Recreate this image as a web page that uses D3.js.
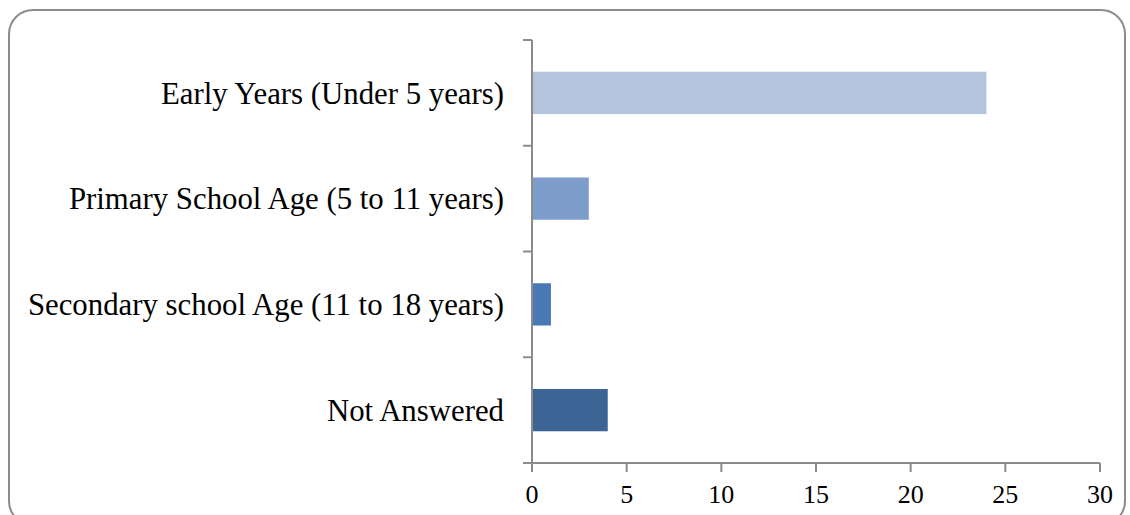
<!DOCTYPE html>
<html><head><meta charset="utf-8">
<script src="https://cdn.jsdelivr.net/npm/d3@7"></script>
<style>body{margin:0;background:#fff}svg{display:block}</style>
</head><body>
<script>
const categories = ["Early Years (Under 5 years)","Primary School Age (5 to 11 years)","Secondary school Age (11 to 18 years)","Not Answered"];
const values = [24, 3, 1, 4];
const barColors = ["#b4c3de","#7f9dcb","#4a7ab5","#3c6596"];
const xTicks = [0,5,10,15,20,25,30];

(function(){
const W=1130,H=515;
const svg=d3.select("body").append("svg").attr("width",W).attr("height",H);
svg.append("rect").attr("x",9).attr("y",10).attr("width",1116).attr("height",515)
  .attr("rx",24).attr("fill","#fff").attr("stroke","#8c8c8c").attr("stroke-width",2);

const mLeft=532,mRight=1100,mTop=40,mBottom=463;
const x=d3.scaleLinear().domain([0,30]).range([mLeft,mRight]);
const y=d3.scaleBand().domain(categories).range([mTop,mBottom]).paddingInner(0.6).paddingOuter(0.3);

svg.selectAll("rect.bar").data(values).join("rect").attr("class","bar")
  .attr("x",x(0)).attr("y",(d,i)=>y(categories[i]))
  .attr("width",d=>x(d)-x(0)).attr("height",y.bandwidth())
  .attr("fill",(d,i)=>barColors[i]);

const axisColor="#8c8c8c";
svg.append("line").attr("x1",mLeft).attr("x2",mLeft).attr("y1",mTop).attr("y2",mBottom).attr("stroke",axisColor).attr("stroke-width",2);
const step=(mBottom-mTop)/categories.length;
d3.range(categories.length+1).forEach(i=>{
  const yy=mTop+i*step;
  svg.append("line").attr("x1",mLeft-9).attr("x2",mLeft).attr("y1",yy).attr("y2",yy).attr("stroke",axisColor).attr("stroke-width",2);
});
svg.append("line").attr("x1",mLeft-9).attr("x2",mRight).attr("y1",mBottom).attr("y2",mBottom).attr("stroke",axisColor).attr("stroke-width",2);
xTicks.forEach(t=>{
  svg.append("line").attr("x1",x(t)).attr("x2",x(t)).attr("y1",mBottom).attr("y2",mBottom+9).attr("stroke",axisColor).attr("stroke-width",2);
  svg.append("text").attr("x",x(t)).attr("y",503).attr("text-anchor","middle")
    .attr("font-family","Liberation Serif, serif").attr("font-size",26).attr("fill","#000").text(t);
});
categories.forEach(c=>{
  svg.append("text").attr("x",504).attr("y",y(c)+y.bandwidth()/2).attr("dy","0.35em")
    .attr("text-anchor","end").attr("font-family","Liberation Serif, serif").attr("font-size",30.8).attr("fill","#000").text(c);
});
})();
</script>
</body></html>
